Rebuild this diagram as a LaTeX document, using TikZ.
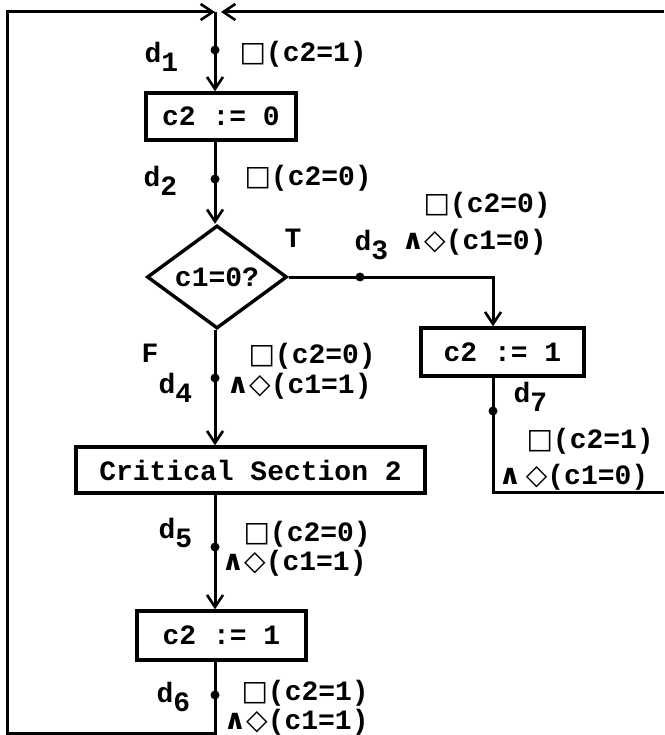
\documentclass[tikz,border=0pt]{standalone}
\usepackage{fontspec}
\setmonofont{Liberation Mono}
\newfontfamily\symfont{DejaVu Sans}
\usetikzlibrary{shapes.geometric,arrows.meta}
\newcommand{\alw}{{\symfont □}}
\newcommand{\evt}{{\symfont ◇}}
\newcommand{\conj}{{\symfont ∧}}
\newcommand{\dsub}[1]{d\raisebox{-9pt}{#1}}
\begin{document}
\begin{tikzpicture}[
     x=1pt,y=-1pt,
     font=\fontsize{28}{30}\selectfont\ttfamily\bfseries,
     line width=3pt,
     >={Straight Barb[length=12pt,width=16pt,line width=2.6pt]},
     stmt/.style={draw,rectangle,inner sep=0pt,line width=3.4pt},
     cond/.style={draw,diamond,inner sep=0pt,minimum width=140pt,minimum height=76pt,line width=3.4pt},
     probe/.style={circle,fill,inner sep=0pt,minimum size=9pt},
     lab/.style={inner sep=0pt,anchor=base west}
   ]
   \path[use as bounding box] (0,0) rectangle (664,735);
   % Statements and test.
   \node[stmt,minimum width=150pt,minimum height=47pt] (init) at (221,116.5) {c2 := 0};
   \node[cond] (test) at (217,277) {c1=0?};
   \node[stmt,minimum width=163pt,minimum height=48pt] (seta) at (502.5,352) {c2 := 1};
   \node[stmt,minimum width=349pt,minimum height=46pt] (crit) at (250.5,470) {Critical Section 2};
   \node[stmt,minimum width=169pt,minimum height=49pt] (setb) at (221.5,635.5) {c2 := 1};
   % Corners of the loop.
   \coordinate (jn) at (215,12);
   \coordinate (ll) at (7,733);
   \coordinate (tr) at (664,12);
   \coordinate (rr) at (664,492);
   \coordinate (tb) at (493,277);
   % Flow.
   \draw[->] (jn) -- (jn |- init.north);
   \draw[->] (jn |- init.south) -- (jn |- test.north);
   \draw[->] (test.east) -| (seta.north -| tb);
   \draw[->] (jn |- test.south) -- (jn |- crit.north);
   \draw[->] (jn |- crit.south) -- (jn |- setb.north);
   \draw[->] (jn |- setb.south) |- (ll) |- (jn);
   \draw (seta.south -| tb) |- (rr);
   \draw[->,shorten >=6pt] (tr) -- (jn);
   % Points d1..d7.
   \node[probe] (p1) at (215,50) {};
   \node[probe] (p2) at (215,179) {};
   \node[probe] (p3) at (360,277) {};
   \node[probe] (p4) at (215,378) {};
   \node[probe] (p5) at (215,547) {};
   \node[probe] (p6) at (215,695) {};
   \node[probe] (p7) at (493,411) {};
   % Assertions.
   \node[lab] (d1) at (143,63) {\dsub{1}};
   \node[lab] (a1) at (238,62) {\alw(c2=1)};
   \node[lab] (d2) at (142,187) {\dsub{2}};
   \node[lab] (a2) at (243,186) {\alw(c2=0)};
   \node[lab] (t) at (283,247) {T};
   \node[lab] (d3) at (353,250) {\dsub{3}};
   \node[lab] (a3) at (422,213) {\alw(c2=0)};
   \node[lab] (b3) at (400,249) {\conj\evt(c1=0)};
   \node[lab] (f) at (140,362) {F};
   \node[lab] (d4) at (157,393) {\dsub{4}};
   \node[lab] (a4) at (247,363) {\alw(c2=0)};
   \node[lab] (b4) at (225,393) {\conj\evt(c1=1)};
   \node[lab] (d5) at (157,538) {\dsub{5}};
   \node[lab] (a5) at (242,541) {\alw(c2=0)};
   \node[lab] (b5) at (220,570) {\conj\evt(c1=1)};
   \node[lab] (d6) at (155,702) {\dsub{6}};
   \node[lab] (a6) at (240,700) {\alw(c2=1)};
   \node[lab] (b6) at (222,729) {\conj\evt(c1=1)};
   \node[lab] (d7) at (512,402) {\dsub{7}};
   \node[lab] (a7) at (525,448) {\alw(c2=1)};
   \node[lab] (b7) at (497,484) {\conj\,\evt(c1=0)};
 \end{tikzpicture}
\end{document}
